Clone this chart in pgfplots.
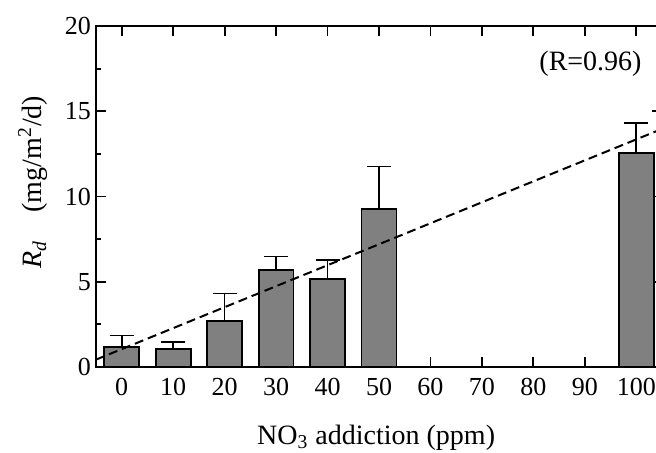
\documentclass[border=0pt]{standalone}
\usepackage{fontspec}
\setmainfont{Liberation Serif}
\usepackage{pgfplots}
\usepackage{pgfplotstable}
\pgfplotsset{compat=1.18}
\definecolor{barfill}{RGB}{128,128,128}
\pgfplotstableread{
x y e
0 1.17 0.68
10 1.07 0.40
20 2.70 1.62
30 5.67 0.80
40 5.18 1.08
50 9.25 2.50
100 12.54 1.77
}\bars
\pgfplotstableread{
x y
-5 0.435
105 13.965
}\fit
\begin{document}
\begin{tikzpicture}
\begin{axis}[
  name=ax,
  scale only axis, width=283pt, height=170.5pt,
  xmin=-5, xmax=105, ymin=0, ymax=20,
  xtick={0,10,...,100}, ytick={0,5,10,15,20},
  minor y tick num=1,
  tick align=inside,
  axis line style={line width=1pt},
  every tick/.style={black, line width=0.9pt},
  major tick length=5pt, minor tick length=2.5pt,
  /pgf/number format/assume math mode=true,
  tick label style={font=\fontsize{13}{15}\selectfont},
  xticklabel style={yshift=-2pt},
  yticklabel style={xshift=1pt},
  label style={font=\fontsize{14}{16}\selectfont},
  xlabel={NO\textsubscript{3} addiction (ppm)},
  xlabel style={at={(axis description cs:0.495,0)}, anchor=north, yshift=-25.3pt},
  ylabel={\textit{R}\textsubscript{\textit{d}}\quad(mg/m\textsuperscript{2}/d)},
  ylabel style={at={(axis description cs:-0.1113,0.5425)}, anchor=center},
]
\addplot[ybar, bar width=6.8, fill=barfill, draw=black, line width=0.9pt,
  error bars/.cd, y dir=plus, y explicit,
  error bar style={line width=0.8pt, black},
  error mark options={rotate=90, mark size=6pt, line width=0.8pt, black}]
  table[x=x, y=y, y error=e] {\bars};
\addplot[black, line width=1pt, dash pattern=on 4.5pt off 2.5pt] table[x=x,y=y] {\fit};
\node[font=\fontsize{14}{16}\selectfont] at (axis cs:91.1,17.8) {(R=0.96)};
\end{axis}
\pgfresetboundingbox
\path[use as bounding box] (ax.south west) ++(-48pt,-42.5pt) rectangle ++(328pt,226pt);
\end{tikzpicture}
\end{document}
